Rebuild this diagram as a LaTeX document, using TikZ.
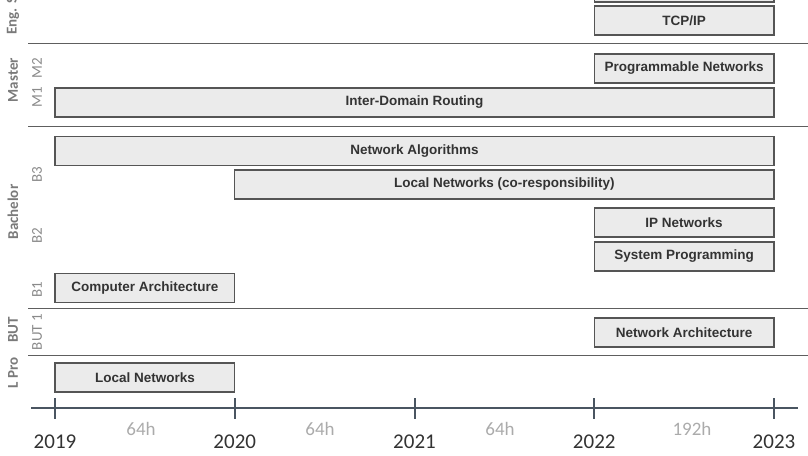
\documentclass[tikz,border=0pt]{standalone}
\usepackage{fontspec}
\setmainfont{Carlito}
\newfontfamily\arialfont{Liberation Sans}
\usetikzlibrary{positioning,calc}

\definecolor{boxfill}{HTML}{EBEBEB}
\definecolor{boxline}{HTML}{555555}
\definecolor{textdark}{HTML}{333333}
\definecolor{grouptext}{HTML}{7A7A7A}
\definecolor{subtext}{HTML}{8A8A8A}
\definecolor{hourtext}{HTML}{ABABAB}
\definecolor{axiscol}{HTML}{4A5561}
\definecolor{sepcol}{HTML}{5E5E5E}

\begin{document}
\begin{tikzpicture}[x=1pt, y=-1pt]

% Styles
\tikzset{
    course/.style={rectangle, draw=boxline, fill=boxfill, line width=1.2pt, inner sep=0pt,
        minimum height=29pt, text=textdark, font=\arialfont\fontsize{13.5}{15}\selectfont\bfseries},
    shortc/.style={course, minimum width=179.75pt},
    midc/.style={course, minimum width=539.25pt},
    longc/.style={course, minimum width=719pt},
    group/.style={rotate=90, text=grouptext, font=\fontsize{15}{17}\selectfont\bfseries, inner sep=0pt},
    level/.style={rotate=90, text=subtext, font=\fontsize{15}{17}\selectfont, inner sep=0pt},
    sep/.style={draw=sepcol, line width=1pt},
    axis/.style={draw=axiscol, line width=2pt},
    year/.style={text=textdark, font=\fontsize{21}{23}\selectfont, inner sep=0pt},
    hours/.style={text=hourtext, font=\fontsize{19}{21}\selectfont, inner sep=0pt}
}

\useasboundingbox (0,0) rectangle (808,455);

% Separators between degrees
\foreach \y/\n in {43/s1, 126/s2, 308/s3, 355/s4} {
    \coordinate (\n l) at (28,\y);
    \coordinate (\n r) at (808,\y);
    \draw[sep] (\n l) -- (\n r);
}

% Degree labels
\node[group, anchor=west] (eng) at (13,35) {Eng. S};
\node[group] (master) at (13,80) {Master};
\node[group] (bachelor) at (13,212) {Bachelor};
\node[group] (but) at (13,330) {BUT};
\node[group] (lpro) at (13,373) {L Pro};

% Year levels
\node[level] (m2) at (37,68) {M2};
\node[level] (m1) at (37,97) {M1};
\node[level] (b3) at (37,175) {B3};
\node[level] (b2) at (37,236) {B2};
\node[level] (b1) at (37,290) {B1};
\node[level] (but1) at (37,332) {BUT 1};

% Courses
\node[shortc] (top) at (684.1,-12.5) {};
\node[shortc] (tcpip) at (684.1,20.5) {TCP/IP};
\node[shortc] (prog) at (684.1,68.5) {Programmable Networks};
\node[longc] (idr) at (414.5,102.5) {Inter-Domain Routing};
\node[longc] (algo) at (414.5,150.75) {Network Algorithms};
\node[midc] (lancr) at (504.4,184.5) {Local Networks (co-responsibility)};
\node[shortc] (ipnet) at (684.1,222.5) {IP Networks};
\node[shortc] (sysprog) at (684.1,256.5) {System Programming};
\node[shortc] (comparch) at (144.9,287.75) {Computer Architecture};
\node[shortc] (netarch) at (684.1,332.5) {Network Architecture};
\node[shortc] (lan) at (144.9,377.5) {Local Networks};

% Time axis
\coordinate (axl) at (31,408);
\coordinate (axr) at (798,408);
\draw[axis] (axl) -- (axr);
\foreach \i/\yr in {0/2019,1/2020,2/2021,3/2022,4/2023} {
    \coordinate (t\yr a) at (55+\i*179.75,398);
    \coordinate (t\yr b) at (55+\i*179.75,419);
    \draw[axis] (t\yr a) -- (t\yr b);
    \node[year] (y\yr) at (55+\i*179.75,442) {\yr};
}

% Hours per year
\node[hours] (h1) at (141,428.5) {64h};
\node[hours] (h2) at (320,428.5) {64h};
\node[hours] (h3) at (500,428.5) {64h};
\node[hours] (h4) at (692,428.5) {192h};

\end{tikzpicture}
\end{document}
